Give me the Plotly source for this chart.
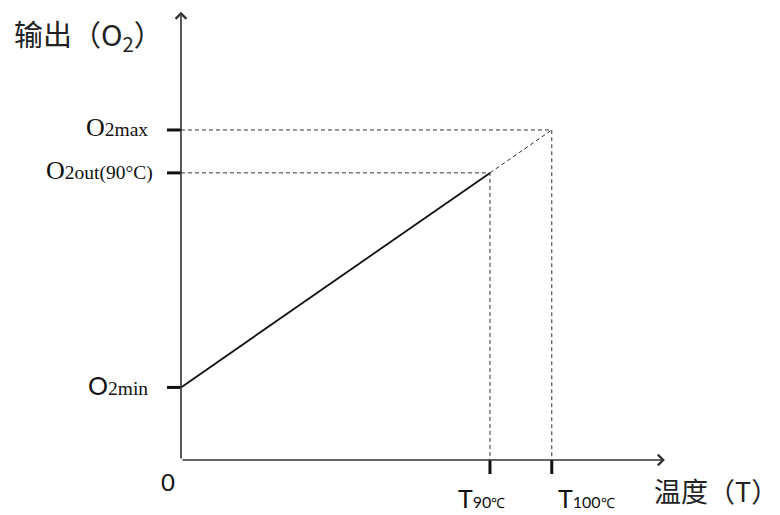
import plotly.graph_objects as go

# ---- data (abstract units) ----
T_names = ["T90", "T100"]
T_vals = [5.0, 6.0]                       # T90℃, T100℃
T_sub = ["90", "100"]
O2_names = ["O2min", "O2out", "O2max"]
O2_vals = [1.1, 4.35, 5.0]                # O2min, O2out(90℃), O2max
O2_sub = ["2min", "2out(90°C)", "2max"]
x_axis_len = 7.83
y_axis_len = 6.79
x_title = "温度（T）"
y_title = "输出（O<sub>2</sub>）"

T90, T100 = T_vals
O2min, O2out, O2max = O2_vals

SERIF = "Liberation Serif, Times New Roman, serif"
SANS = "Lato, Open Sans, sans-serif"

def o2_label(sub, serif_o):
    o_font = SERIF if serif_o else SANS
    o_size = 26 if serif_o else 25
    return (f"<span style='font-family:{o_font};font-size:{o_size}px'>O</span>"
            f"<span style='font-size:19.5px;font-family:{SERIF}'>{sub}</span>")

def t_label(sub):
    return (f"T<span style='font-size:16px'>{sub}</span>"
            f"<span style='font-size:14px;font-family:{SERIF}'>℃</span>")

O2_labels = [o2_label(O2_sub[0], False), o2_label(O2_sub[1], True), o2_label(O2_sub[2], True)]
O2_xshift = [-31, -26, -31]
T_labels = [t_label(s) for s in T_sub]
T_xshift = [-34, 4]

fig = go.Figure()

# solid response line
fig.add_trace(go.Scatter(x=[0, T90], y=[O2min, O2out], mode="lines",
                         line=dict(color="#111", width=1.8), hoverinfo="skip"))
# dashed extension
dash = "4px,3px"
fig.add_trace(go.Scatter(x=[T90, T100], y=[O2out, O2max], mode="lines",
                         line=dict(color="#333", width=1, dash=dash), hoverinfo="skip"))
# guide lines
for tx, oy in [(T90, O2out), (T100, O2max)]:
    fig.add_trace(go.Scatter(x=[0, tx, tx], y=[oy, oy, 0], mode="lines",
                             line=dict(color="#333", width=1, dash=dash), hoverinfo="skip"))

shapes = []
for v in O2_vals:
    shapes.append(dict(type="line", xref="x", yref="y", xsizemode="pixel", xanchor=0,
                       x0=-14, x1=0, y0=v, y1=v, line=dict(color="#111", width=3)))
for v in T_vals:
    shapes.append(dict(type="line", xref="x", yref="y", ysizemode="pixel", yanchor=0,
                       x0=v, x1=v, y0=0, y1=-14, line=dict(color="#111", width=3)))

ann = []
ann.append(dict(x=0, y=y_axis_len, ax=0, ay=0, xref="x", yref="y", axref="x", ayref="y",
                text="", showarrow=True, arrowhead=4, arrowsize=1.3, arrowwidth=1.6,
                arrowcolor="#333"))
ann.append(dict(x=x_axis_len, y=0, ax=0, ay=0, xref="x", yref="y", axref="x", ayref="y",
                text="", showarrow=True, arrowhead=4, arrowsize=1.3, arrowwidth=1.6,
                arrowcolor="#333"))

for v, lab, xs in zip(O2_vals, O2_labels, O2_xshift):
    ann.append(dict(x=0, y=v, xref="x", yref="y", text=lab, showarrow=False,
                    xanchor="right", yanchor="middle", xshift=xs, yshift=2,
                    font=dict(family=SERIF, size=24, color="#111")))
for v, lab, xs in zip(T_vals, T_labels, T_xshift):
    ann.append(dict(x=v, y=0, xref="x", yref="y", text=lab, showarrow=False,
                    xanchor="left", yanchor="middle", xshift=xs, yshift=-38,
                    font=dict(family=SANS, size=25, color="#111")))
ann.append(dict(x=0, y=0, xref="x", yref="y", text="0", showarrow=False,
                xanchor="center", yanchor="middle", xshift=-13, yshift=-21,
                font=dict(family=SANS, size=24, color="#111")))
ann.append(dict(x=0, y=y_axis_len, xref="x", yref="y", text=y_title, showarrow=False,
                xanchor="left", yanchor="middle", xshift=-169, yshift=-23,
                font=dict(family="Noto Sans CJK SC", size=29, color="#222")))
ann.append(dict(x=x_axis_len, y=0, xref="x", yref="y", text=x_title, showarrow=False,
                xanchor="left", yanchor="middle", xshift=-13, yshift=-30,
                font=dict(family="Noto Sans CJK SC", size=27, color="#222")))

# page has an 8px body margin: figure is 772x507, origin at plot px (173, 452)
fig.update_layout(
    width=772, height=507,
    margin=dict(l=0, r=0, t=0, b=0),
    paper_bgcolor="white", plot_bgcolor="white",
    showlegend=False,
    xaxis=dict(range=[-2.799, 9.693], visible=False, fixedrange=True),
    yaxis=dict(range=[-0.833, 6.848], visible=False, fixedrange=True),
    shapes=shapes, annotations=ann,
)
fig.write_html("out.html")
